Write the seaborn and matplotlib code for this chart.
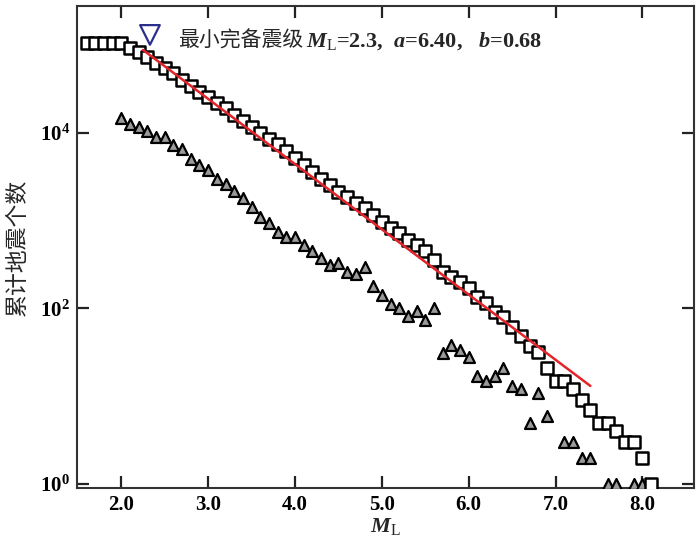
import matplotlib
matplotlib.use("Agg")
import matplotlib.pyplot as plt
import seaborn as sns
import pandas as pd
from matplotlib.ticker import FixedLocator, LogFormatterSciNotation, NullLocator

# ---------------- data ----------------
cum_m = [1.6, 1.7, 1.8, 1.9, 2.0, 2.1, 2.2, 2.3, 2.4, 2.5, 2.6, 2.7, 2.8, 2.9,
         3.0, 3.1, 3.2, 3.3, 3.4, 3.5, 3.6, 3.7, 3.8, 3.9, 4.0, 4.1, 4.2, 4.3,
         4.4, 4.5, 4.6, 4.7, 4.8, 4.9, 5.0, 5.1, 5.2, 5.3, 5.4, 5.5, 5.6, 5.7,
         5.8, 5.9, 6.0, 6.1, 6.2, 6.3, 6.4, 6.5, 6.6, 6.7, 6.8, 6.9, 7.0, 7.1,
         7.2, 7.3, 7.4, 7.5, 7.6, 7.7, 7.8, 7.9, 8.0, 8.1]
cum_n = [107000, 107000, 107000, 107000, 107000, 93300, 83200, 74100, 63100,
         55000, 47900, 39800, 34700, 29500, 25700, 21900, 19100, 16200, 13800,
         11700, 10000, 8510, 7410, 6310, 5250, 4270, 3550, 2950, 2570, 2140,
         1860, 1580, 1380, 1170, 977, 832, 724, 603, 525, 447, 355, 263, 229,
         200, 170, 135, 115, 91, 79, 62, 48, 37, 32, 21, 15, 15, 12, 9, 7, 5,
         5, 4, 3, 3, 2, 1]

tri_m = [2.0, 2.1, 2.2, 2.3, 2.4, 2.5, 2.6, 2.7, 2.8, 2.9, 3.0, 3.1, 3.2, 3.3,
         3.4, 3.5, 3.6, 3.7, 3.8, 3.9, 4.0, 4.1, 4.2, 4.3, 4.4, 4.5, 4.6, 4.7,
         4.8, 4.9, 5.0, 5.1, 5.2, 5.3, 5.4, 5.5, 5.6, 5.7, 5.8, 5.9, 6.0, 6.1,
         6.2, 6.3, 6.4, 6.5, 6.6, 6.7, 6.8, 6.9, 7.1, 7.2, 7.3, 7.4, 7.6, 7.7,
         7.9, 8.0, 8.1]
tri_n = [14700, 12600, 11700, 10400, 9100, 8900, 7200, 6500, 5100, 4300, 3800,
         3000, 2600, 2200, 1800, 1450, 1110, 930, 750, 660, 660, 525, 447, 372,
         316, 327, 263, 245, 295, 182, 141, 112, 100, 81, 93, 74, 102, 31, 38,
         34, 28, 17, 15, 17, 21, 13, 12, 5, 11, 6, 3, 3, 2, 2, 1, 1, 1, 1, 1]

fit_m = [2.25, 7.4]
fit_n = [88300, 13.1]

mc_m = [2.33]
mc_n = [131000]

x_ticks = [2.0, 3.0, 4.0, 5.0, 6.0, 7.0, 8.0]
x_labels = ["2.0", "3.0", "4.0", "5.0", "6.0", "7.0", "8.0"]
y_ticks = [1, 100, 10000]

label_cn = "最小完备震级"
label_rest = r"$M_{\mathrm{L}}$=2.3,  $a$=6.40,   $b$=0.68"
ylabel = "累计地震个数"
xlabel = r"$M_{\mathrm{L}}$"

# ---------------- style ----------------
sns.set_style("ticks")
plt.rcParams["font.family"] = ["Liberation Serif", "Noto Sans CJK SC", "DejaVu Sans"]
plt.rcParams["mathtext.fontset"] = "custom"
plt.rcParams["mathtext.rm"] = "Liberation Serif"
plt.rcParams["mathtext.it"] = "Liberation Serif:italic:bold"
plt.rcParams["mathtext.bf"] = "Liberation Serif:bold"

fig = plt.figure(figsize=(7.0, 5.44), dpi=100)
ax = fig.add_axes([0.110, 0.103, 0.881, 0.886])

df_cum = pd.DataFrame({"M": cum_m, "N": cum_n})
df_tri = pd.DataFrame({"M": tri_m, "N": tri_n})
df_fit = pd.DataFrame({"M": fit_m, "N": fit_n})
df_mc = pd.DataFrame({"M": mc_m, "N": mc_n})

sns.scatterplot(data=df_tri, x="M", y="N", marker="^", s=62, color="#9a9a9a",
                edgecolor="black", linewidth=1.6, ax=ax, zorder=3)
sns.scatterplot(data=df_cum, x="M", y="N", marker="s", s=72, color="white",
                edgecolor="black", linewidth=1.8, ax=ax, zorder=3)
sns.lineplot(data=df_fit, x="M", y="N", color="#e3242b", linewidth=1.8, ax=ax,
             zorder=4)
sns.scatterplot(data=df_mc, x="M", y="N", marker="v", s=200, color="none",
                edgecolor="#2b2f8c", linewidth=1.6, ax=ax, zorder=5)

ax.set_yscale("log")
ax.set_xlim(1.49, 8.59)
ax.set_ylim(0.9, 2.8e5)

ax.xaxis.set_major_locator(FixedLocator(x_ticks))
ax.set_xticklabels(x_labels)
ax.xaxis.set_minor_locator(NullLocator())
ax.yaxis.set_major_locator(FixedLocator(y_ticks))
ax.yaxis.set_major_formatter(LogFormatterSciNotation())
ax.yaxis.set_minor_locator(NullLocator())

ax.tick_params(axis="both", which="major", direction="in", length=8.5, width=1.6,
               top=True, right=True, labelsize=15, pad=5, colors="#222222",
               labelcolor="black")
for lab in ax.get_xticklabels() + ax.get_yticklabels():
    lab.set_fontweight("bold")
for sp in ax.spines.values():
    sp.set_linewidth(1.5)
    sp.set_color("#333333")

ax.set_xlabel(xlabel, fontsize=16, labelpad=1)
ax.set_ylabel(ylabel, fontsize=16.5, family=["Noto Sans CJK SC"], labelpad=8)

t1 = ax.text(0.164, 0.929, label_cn, transform=ax.transAxes, fontsize=15,
             family=["Noto Sans CJK SC"], va="center", ha="left")
ax.annotate(label_rest, xy=(1.0, 0.45), xycoords=t1, xytext=(2, 0),
            textcoords="offset points", va="center", ha="left",
            fontsize=16, fontweight="bold")

fig.savefig("out.png", dpi=100)
